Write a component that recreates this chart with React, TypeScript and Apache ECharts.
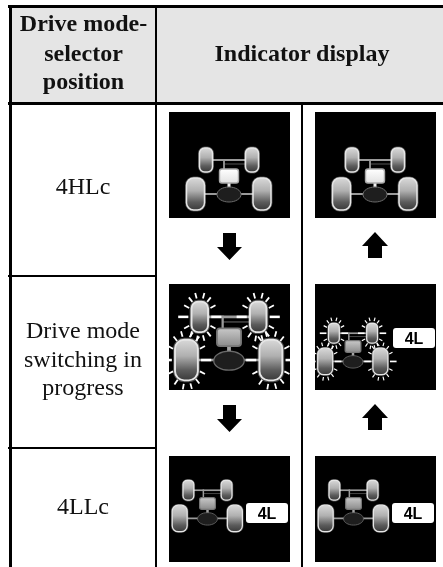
import React, { useEffect, useRef } from "react";
import * as echarts from "echarts";

const headerLines = ["Drive mode-", "selector", "position"];
const headerRight = "Indicator display";
const rowOne = ["4HLc"];
const rowTwo = ["Drive mode", "switching in", "progress"];
const rowThree = ["4LLc"];
const badgeLabel = "4L";
const rayAngles = [0, 28, 52, 75, 100, 125, 152, 180, 208, 232, 255, 285, 308, 332];

const SERIF = '"Liberation Serif", serif';
const SANS = '"Liberation Sans", sans-serif';

function blackRect(x: number, y: number, w: number, h: number, fill = "#000") {
  return { type: "rect", shape: { x, y, width: w, height: h }, style: { fill }, silent: true };
}

function wheel(x: number, y: number, w: number, h: number, rays: boolean) {
  const kids: any[] = [];
  const grad = new echarts.graphic.LinearGradient(0, 0, 0, 1, [
    { offset: 0, color: "#d8d8d8" },
    { offset: 0.4, color: "#b0b0b0" },
    { offset: 0.75, color: "#5c5c5c" },
    { offset: 1, color: "#3a3a3a" },
  ]);
  const r = w * 0.4;
  kids.push({
    type: "rect",
    shape: { x, y, width: w, height: h, r },
    style: { fill: "none", stroke: "rgba(255,255,255,0.28)", lineWidth: 3 },
    silent: true,
  });
  kids.push({
    type: "rect",
    shape: { x, y, width: w, height: h, r },
    style: { fill: grad, stroke: "#e6e6e6", lineWidth: 1.5 },
    silent: true,
  });
  if (rays) {
    const cx = x + w / 2;
    const cy = y + h / 2;
    rayAngles.forEach((deg) => {
      const a = (deg * Math.PI) / 180;
      const c = Math.cos(a);
      const s = Math.sin(a);
      const side = deg === 0 || deg === 180;
      const start = side ? 2.5 : 3;
      const len = side ? 8 : 4.5;
      kids.push({
        type: "line",
        shape: {
          x1: cx + (w / 2 + start) * c,
          y1: cy + (h / 2 + start) * s,
          x2: cx + (w / 2 + start + len) * c,
          y2: cy + (h / 2 + start + len) * s,
        },
        style: { stroke: "#fff", lineWidth: side ? 2 : 1.4 },
        silent: true,
      });
    });
  }
  return kids;
}

function drivetrain(x: number, y: number, scale: number, rays: boolean, boxBright: boolean) {
  const shaft = "#9a9a9a";
  const boxFill = new echarts.graphic.LinearGradient(0, 0, 0, 1, boxBright
    ? [{ offset: 0, color: "#ffffff" }, { offset: 1, color: "#e2e2e2" }]
    : [{ offset: 0, color: "#c8c8c8" }, { offset: 1, color: "#8c8c8c" }]);
  const line = (x1: number, y1: number, x2: number, y2: number, lineWidth = 1.6, stroke = shaft) => ({
    type: "line",
    shape: { x1, y1, x2, y2 },
    style: { stroke, lineWidth },
    silent: true,
  });
  const children: any[] = [
    line(-17, -19, 17, -19, 2),
    line(-5, -15, 16, -15, 1, "#555"),
    line(-5, -20, -5, -7, 1.8),
    line(-24, 15, 24, 15, 2),
    line(0, 3, 0, 9, 3, boxBright ? "#f0f0f0" : "#a4a4a4"),
    {
      type: "ellipse",
      shape: { cx: 0, cy: 15.5, rx: 12, ry: 7.5 },
      style: { fill: "#1e1e1e", stroke: "#6a6a6a", lineWidth: 1 },
      silent: true,
    },
    {
      type: "rect",
      shape: { x: -9.5, y: -10, width: 19, height: 14, r: 2.5 },
      style: { fill: boxFill, stroke: boxBright ? "#aaa" : "#777", lineWidth: 1.4 },
      silent: true,
    },
    ...wheel(-29.5, -31, 13, 24, rays),
    ...wheel(16.5, -31, 13, 24, rays),
    ...wheel(-42.5, -1, 18, 32, rays),
    ...wheel(24, -1, 18, 32, rays),
  ];
  return { type: "group", x, y, scaleX: scale, scaleY: scale, children };
}

function badge(x: number, y: number) {
  return [
    {
      type: "rect",
      shape: { x, y, width: 42, height: 20, r: 3 },
      style: { fill: "#fff" },
      silent: true,
    },
    {
      type: "text",
      x: x + 21,
      y: y + 10.5,
      style: {
        text: badgeLabel,
        fill: "#000",
        font: `bold 16px ${SANS}`,
        align: "center",
        verticalAlign: "middle",
      },
      silent: true,
    },
  ];
}

function label(lines: string[], cx: number, baselines: number[], bold: boolean, size: number) {
  return lines.map((text, i) => ({
    type: "text",
    x: cx,
    y: baselines[i] - size * 0.31,
    style: {
      text,
      fill: "#111",
      font: `${bold ? "bold " : ""}${size}px ${SERIF}`,
      align: "center",
      verticalAlign: "middle",
    },
    silent: true,
  }));
}

function arrowDown(cx: number, top: number) {
  return {
    type: "polygon",
    shape: {
      points: [
        [cx - 6.5, top], [cx + 6.5, top], [cx + 6.5, top + 14], [cx + 12.5, top + 14],
        [cx, top + 27], [cx - 12.5, top + 14], [cx - 6.5, top + 14],
      ],
    },
    style: { fill: "#000" },
    silent: true,
  };
}

function arrowUp(cx: number, top: number) {
  return {
    type: "polygon",
    shape: {
      points: [
        [cx, top], [cx + 13, top + 14], [cx + 7, top + 14], [cx + 7, top + 26],
        [cx - 7, top + 26], [cx - 7, top + 14], [cx - 13, top + 14],
      ],
    },
    style: { fill: "#000" },
    silent: true,
  };
}

export default function App() {
  const ref = useRef<HTMLDivElement>(null);
  useEffect(() => {
    const chart = echarts.init(ref.current!, null, { renderer: "svg" });
    const elements: any[] = [
      blackRect(0, 0, 443, 567, "#fff"),
      blackRect(12, 8, 431, 94, "#e5e5e5"),
      // frame
      blackRect(8, 5, 435, 3),
      blackRect(8, 102, 435, 3),
      blackRect(9, 5, 3, 562),
      blackRect(155, 5, 2, 562),
      blackRect(301, 105, 2, 462),
      blackRect(8, 275, 148, 2),
      blackRect(8, 447, 148, 2),
      // text
      ...label(headerLines, 83.5, [30, 60, 88], true, 24),
      ...label([headerRight], 302, [60], true, 24),
      ...label(rowOne, 83, [193], false, 24),
      ...label(rowTwo, 83, [337, 366, 394], false, 24),
      ...label(rowThree, 83, [513], false, 24),
      // image panels
      blackRect(169, 112, 121, 106),
      blackRect(315, 112, 121, 106),
      blackRect(169, 284, 121, 106),
      blackRect(315, 284, 121, 106),
      blackRect(169, 456, 121, 106),
      blackRect(315, 456, 121, 106),
      // drivetrains
      drivetrain(229, 179, 1, false, true),
      drivetrain(375, 179, 1, false, true),
      drivetrain(229, 341, 1.27, true, false),
      drivetrain(353, 349, 0.83, true, false),
      ...badge(393, 328),
      drivetrain(207.5, 506, 0.83, false, false),
      drivetrain(353.5, 506, 0.83, false, false),
      ...badge(246, 503),
      ...badge(392, 503),
      // arrows
      arrowDown(229.5, 233),
      arrowUp(375, 232),
      arrowDown(229.5, 405),
      arrowUp(375, 404),
    ];
    chart.setOption({ animation: false, graphic: { elements } });
    return () => chart.dispose();
  }, []);
  return <div ref={ref} style={{ position: "fixed", left: 0, top: 0, width: 443, height: 567 }} />;
}
